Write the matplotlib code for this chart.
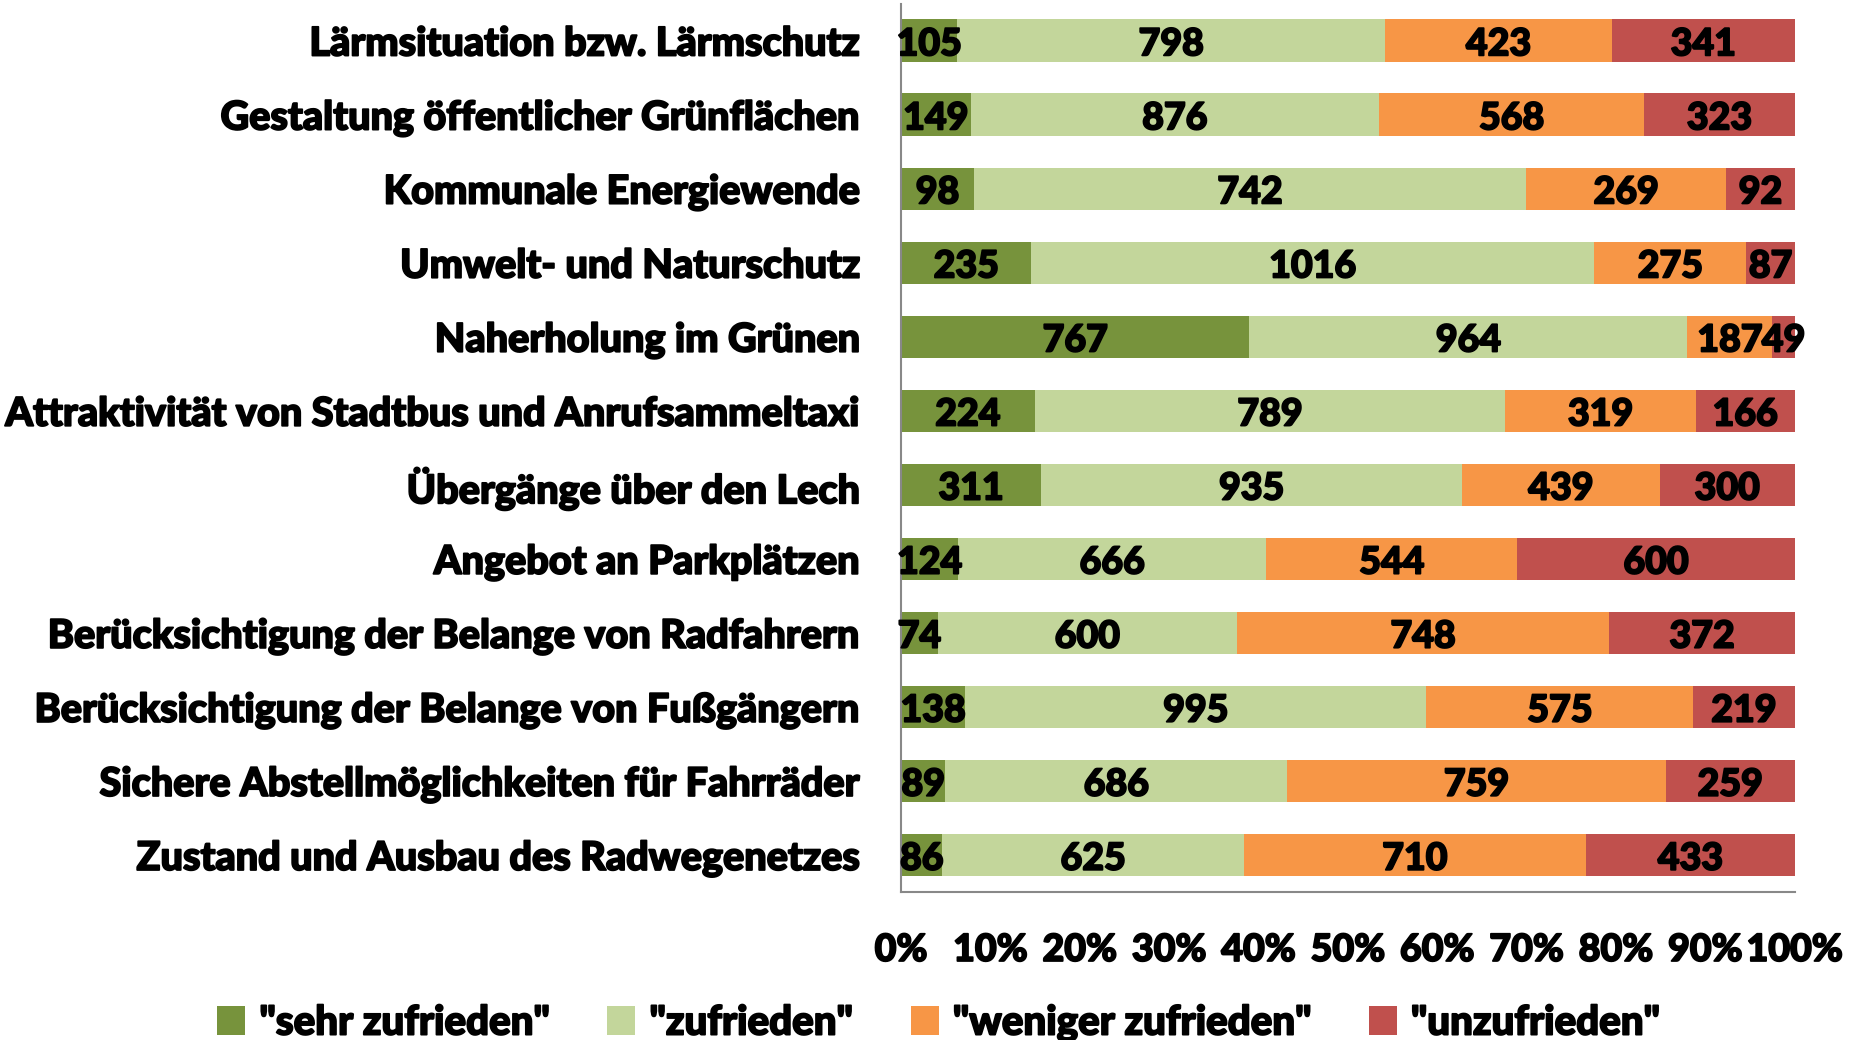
import matplotlib
matplotlib.use("Agg")
import matplotlib.pyplot as plt
import matplotlib.patheffects as pe
import numpy as np
from matplotlib.patches import Patch

categories = [
    "Lärmsituation bzw. Lärmschutz",
    "Gestaltung öffentlicher Grünflächen",
    "Kommunale Energiewende",
    "Umwelt- und Naturschutz",
    "Naherholung im Grünen",
    "Attraktivität von Stadtbus und Anrufsammeltaxi",
    "Übergänge über den Lech",
    "Angebot an Parkplätzen",
    "Berücksichtigung der Belange von Radfahrern",
    "Berücksichtigung der Belange von Fußgängern",
    "Sichere Abstellmöglichkeiten für Fahrräder",
    "Zustand und Ausbau des Radwegenetzes",
]
sehr_zufrieden = [105, 149, 98, 235, 767, 224, 311, 124, 74, 138, 89, 86]
zufrieden = [798, 876, 742, 1016, 964, 789, 935, 666, 600, 995, 686, 625]
weniger_zufrieden = [423, 568, 269, 275, 187, 319, 439, 544, 748, 575, 759, 710]
unzufrieden = [341, 323, 92, 87, 49, 166, 300, 600, 372, 219, 259, 433]

series_labels = ['"sehr zufrieden"', '"zufrieden"', '"weniger zufrieden"', '"unzufrieden"']
colors = ["#77933C", "#C3D69B", "#F79646", "#C0504D"]
xtick_labels = ["0%", "10%", "20%", "30%", "40%", "50%", "60%", "70%", "80%", "90%", "100%"]

font = ["Lato", "DejaVu Sans"]
heavy = "black"
# thin outline in the text colour to thicken the strokes
thick = [pe.withStroke(linewidth=1.3, foreground="black")]

fig = plt.figure(figsize=(18.54, 10.40), dpi=100)
ax = fig.add_axes([0.486, 0.1423, 0.482, 0.8543])

data = np.array([sehr_zufrieden, zufrieden, weniger_zufrieden, unzufrieden], dtype=float)
totals = data.sum(axis=0)
shares = data / totals
y = np.arange(len(categories))

left = np.zeros(len(categories))
for i in range(4):
    bars = ax.barh(y, shares[i], left=left, height=0.57, color=colors[i], edgecolor="none")
    for j, b in enumerate(bars):
        cx = left[j] + shares[i][j] / 2
        ax.text(cx, y[j] + 0.2, f"{int(data[i][j])}", ha="center", va="baseline",
                fontsize=27, fontweight=heavy, family=font, color="black",
                path_effects=thick)
    left += shares[i]

ax.set_ylim(len(categories) - 0.5, -0.5)
ax.set_xlim(0, 1)
ax.set_yticks(y)
ax.set_yticklabels(categories, fontsize=28.5, fontweight=heavy, family=font)
ax.set_xticks(np.linspace(0, 1, 11))
ax.set_xticklabels(xtick_labels, fontsize=27, fontweight=heavy, family=font)
for t in ax.get_yticklabels() + ax.get_xticklabels():
    t.set_path_effects(thick)
ax.tick_params(axis="y", length=0, pad=29)
ax.tick_params(axis="x", length=0, pad=29.5)
for s in ["top", "right"]:
    ax.spines[s].set_visible(False)
for s in ["left", "bottom"]:
    ax.spines[s].set_color("#888888")
    ax.spines[s].set_linewidth(1.5)

handles = [Patch(facecolor=c, edgecolor="none") for c in colors]
leg = fig.legend(handles, series_labels, loc="center", bbox_to_anchor=(0.506, 0.016),
                 ncol=4, frameon=False, handlelength=0.7, handleheight=0.7,
                 handletextpad=0.35, columnspacing=1.45,
                 prop={"family": font, "weight": heavy, "size": 29})
for t in leg.get_texts():
    t.set_path_effects(thick)

fig.savefig("out.png", dpi=100)
